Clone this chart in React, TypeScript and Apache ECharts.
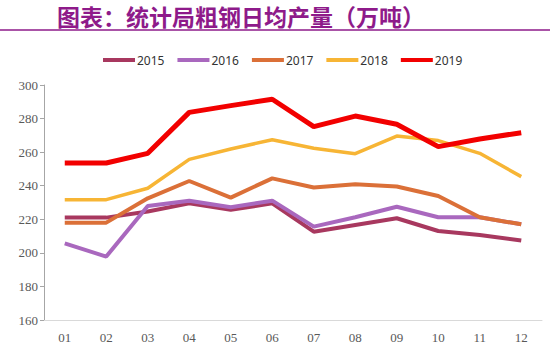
import React, { useEffect, useRef } from "react";
import * as echarts from "echarts";

const months = ["01", "02", "03", "04", "05", "06", "07", "08", "09", "10", "11", "12"];
const s2015 = [221, 221, 224.6, 229.5, 225.6, 229.5, 212.6, 216.6, 220.6, 213, 210.7, 207.3];
const s2016 = [205.7, 197.8, 227.9, 231.1, 227.2, 231.1, 215.6, 221.2, 227.5, 221.2, 221.2, 217];
const s2017 = [218, 218, 232.5, 242.8, 232.9, 244.4, 238.9, 240.9, 239.5, 233.9, 221.2, 217];
const s2018 = [231.7, 231.7, 238.5, 255.7, 261.9, 267.4, 262.3, 259.1, 269.6, 266.9, 259.3, 245.4];
const s2019 = [253.5, 253.5, 259.3, 283.7, 287.7, 291.5, 275.2, 281.5, 276.6, 263.3, 267.8, 271.6];

const seriesNames = ["2015", "2016", "2017", "2018", "2019"];
const seriesData = [s2015, s2016, s2017, s2018, s2019];
const colors = ["#A8385F", "#A968BE", "#DB7038", "#F7B535", "#F20000"];
const widths = [4, 4, 4, 3.5, 5];

export default function App() {
  const ref = useRef<HTMLDivElement>(null);
  useEffect(() => {
    if (!ref.current) return;
    const chart = echarts.init(ref.current, undefined, { renderer: "svg" });
    chart.setOption({
      animation: false,
      backgroundColor: "#ffffff",
      graphic: [
        {
          type: "text",
          x: 57,
          y: 16,
          style: {
            text: "图表：统计局粗钢日均产量（万吨）",
            fontFamily: "Noto Sans CJK SC",
            fontSize: 23,
            fontWeight: "bold",
            fill: "#8E1A8A",
            align: "left",
            verticalAlign: "middle",
          },
        },
        {
          type: "line",
          shape: { x1: 0, y1: 30, x2: 550, y2: 30 },
          style: { stroke: "#8E1A8A", lineWidth: 1.5 },
        },
      ],
      legend: {
        top: 49,
        left: 98,
        itemWidth: 32,
        itemHeight: 4,
        itemGap: 13,
        icon: "rect",
        textStyle: { fontFamily: "Noto Sans", fontSize: 12, color: "#333", padding: [0, 0, 0, -3] },
        data: seriesNames,
      },
      grid: { left: 44, right: 8, top: 85, bottom: 33 },
      xAxis: {
        type: "category",
        data: months,
        boundaryGap: true,
        axisLine: { lineStyle: { color: "#D9D9D9" } },
        axisTick: { lineStyle: { color: "#D9D9D9" }, length: 4 },
        axisLabel: {
          fontFamily: "Liberation Serif",
          fontSize: 13,
          color: "#595959",
          margin: 11,
        },
      },
      yAxis: {
        type: "value",
        min: 160,
        max: 300,
        interval: 20,
        splitLine: { show: false },
        axisLine: { show: true, lineStyle: { color: "#A6A6A6" } },
        axisTick: { show: true, lineStyle: { color: "#A6A6A6" }, length: 4 },
        axisLabel: {
          fontFamily: "Liberation Serif",
          fontSize: 13,
          color: "#595959",
          margin: 6,
        },
      },
      series: seriesNames.map((n, i) => ({
        name: n,
        type: "line",
        data: seriesData[i],
        symbol: "none",
        color: colors[i],
        lineStyle: { width: widths[i], color: colors[i] },
        z: i + 2,
      })),
    });
    return () => chart.dispose();
  }, []);
  return <div ref={ref} style={{ width: 550, height: 353, position: "absolute", left: 0, top: 0 }} />;
}
